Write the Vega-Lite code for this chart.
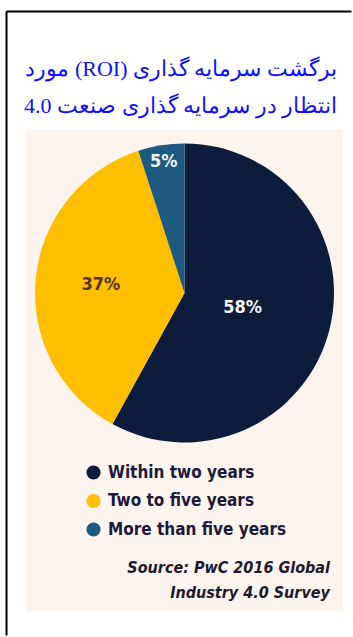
{
  "$schema": "https://vega.github.io/schema/vega-lite/v6.json",
  "background": "#ffffff",
  "padding": {"left": 6, "top": 11, "right": 0, "bottom": 0},
  "datasets": {
    "roi": [
      {"period": "Within two years", "share": 0.58},
      {"period": "Two to five years", "share": 0.37},
      {"period": "More than five years", "share": 0.05}
    ]
  },
  "spacing": 0,
  "bounds": "flush",
  "vconcat": [
    {
      "width": 317,
      "height": 328,
      "view": {"fill": "#fcf4ee", "stroke": null},
      "title": {
        "text": ["\u202bبرگشت سرمایه گذاری (ROI) مورد\u202c", "\u202bانتظار در سرمایه گذاری صنعت 4.0\u202c"],
        "orient": "top",
        "anchor": "end",
        "frame": "group",
        "align": "right",
        "baseline": "bottom",
        "dx": -6,
        "dy": 21,
        "offset": 10,
        "font": "Liberation Serif",
        "fontSize": 22,
        "fontWeight": "normal",
        "color": "#1010ff",
        "lineHeight": 37
      },
      "data": {"name": "roi"},
      "encoding": {
        "theta": {"field": "share", "type": "quantitative", "stack": true},
        "order": {"field": "share", "type": "quantitative", "sort": "descending"}
      },
      "layer": [
        {
          "mark": {"type": "arc", "outerRadius": 149.5},
          "encoding": {
            "color": {
              "field": "period",
              "type": "nominal",
              "sort": ["Within two years", "Two to five years", "More than five years"],
              "scale": {
                "domain": ["Within two years", "Two to five years", "More than five years"],
                "range": ["#0c1c3a", "#fdbf00", "#1d5a80"]
              },
              "legend": {
                "orient": "none",
                "legendX": 59,
                "legendY": 335,
                "title": null,
                "direction": "vertical",
                "symbolType": "circle",
                "symbolSize": 200,
                "symbolStrokeWidth": 0,
                "labelFont": "DejaVu Sans Condensed",
                "labelFontSize": 17,
                "labelFontWeight": "bold",
                "labelColor": "#1c1a3a",
                "labelOffset": 6,
                "rowPadding": 10.5,
                "padding": 0,
                "labelLimit": 0
              }
            }
          }
        },
        {
          "mark": {"type": "text", "font": "DejaVu Sans Condensed", "fontWeight": "bold", "fontSize": 18},
          "encoding": {
            "detail": {"field": "period", "type": "nominal"},
            "radius": {
              "field": "share",
              "type": "quantitative",
              "scale": {"type": "linear", "zero": false, "domain": [0.05, 0.37, 0.58], "range": [133, 84, 60]}
            },
            "text": {"field": "share", "type": "quantitative", "format": ".0%"},
            "color": {
              "condition": {"test": "datum.period === 'Two to five years'", "value": "#5a3410"},
              "value": "#f2f5fa"
            }
          }
        }
      ]
    },
    {
      "width": 317,
      "height": 154,
      "view": {"fill": "#fcf4ee", "stroke": null},
      "data": {"values": []},
      "title": {
        "text": ["Source: PwC 2016 Global", "Industry 4.0 Survey"],
        "orient": "bottom",
        "anchor": "end",
        "frame": "group",
        "align": "right",
        "baseline": "top",
        "dx": -13,
        "dy": -51,
        "offset": 0,
        "font": "DejaVu Sans Condensed",
        "fontStyle": "italic",
        "fontWeight": "bold",
        "fontSize": 16,
        "color": "#1e1a2e",
        "lineHeight": 25
      },
      "mark": {"type": "point", "opacity": 0}
    },
    {
      "width": 317,
      "height": 1,
      "view": {"fill": null, "stroke": null},
      "data": {"values": []},
      "mark": {"type": "point", "opacity": 0},
      "encoding": {
        "x": {
          "datum": 0,
          "type": "quantitative",
          "scale": {"domain": [0, 1], "range": [-20, 325]},
          "axis": {"orient": "top", "offset": 600, "domain": true, "domainColor": "#000000", "domainWidth": 2, "ticks": false, "labels": false, "grid": false, "title": null}
        },
        "y": {
          "datum": 0,
          "type": "quantitative",
          "scale": {"domain": [0, 1], "range": [24, -600]},
          "axis": {"orient": "left", "offset": 20, "domain": true, "domainColor": "#000000", "domainWidth": 2, "ticks": false, "labels": false, "grid": false, "title": null}
        }
      }
    }
  ],
  "config": {
    "view": {"fill": "#fcf4ee", "stroke": null}
  }
}
